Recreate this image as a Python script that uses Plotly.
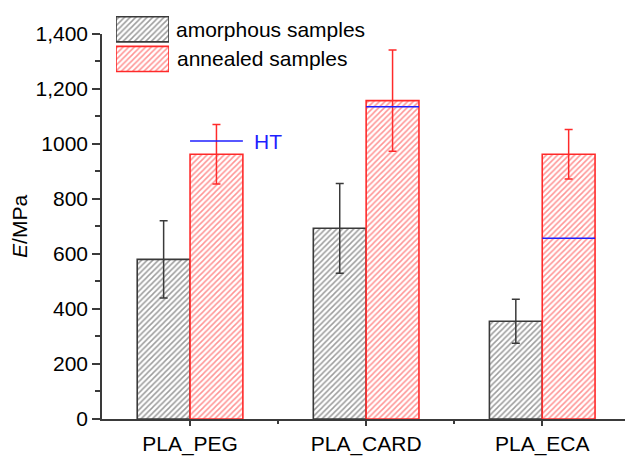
import plotly.graph_objects as go

# Young's modulus of PLA blends, amorphous vs annealed
categories = ["PLA_PEG", "PLA_CARD", "PLA_ECA"]
amorphous = [580, 693, 355]
amorphous_err = [140, 163, 80]
annealed = [962, 1157, 962]
annealed_err = [108, 184, 90]
ht_values = [1010, 1135, 657]  # heat-treated reference levels

y_tickvals = [0, 200, 400, 600, 800, 1000, 1200, 1400]
y_ticktext = ["0", "200", "400", "600", "800", "1000", "1,200", "1,400"]

series_names = ["amorphous samples", "annealed samples"]

FONT = "Liberation Sans, Arial, Helvetica, sans-serif"
FS = 21
DARK = "#3a3a3a"
RED = "#ff2a2a"
BLUE = "#1f1fff"
BAR_W = 0.3


def hatch(color):
    return dict(shape="/", fgcolor=color, bgcolor="white", size=4, solidity=0.38)


x_idx = list(range(len(categories)))

fig = go.Figure()

fig.add_trace(go.Bar(
    x=x_idx, y=amorphous, name=series_names[0], width=BAR_W, offset=-BAR_W,
    marker=dict(color="white", line=dict(color=DARK, width=1.6), pattern=hatch(DARK)),
    error_y=dict(type="data", array=amorphous_err, color=DARK, thickness=1.5, width=4),
    showlegend=False,
))
fig.add_trace(go.Bar(
    x=x_idx, y=annealed, name=series_names[1], width=BAR_W, offset=0,
    marker=dict(color="white", line=dict(color=RED, width=1.6), pattern=hatch(RED)),
    error_y=dict(type="data", array=annealed_err, color=RED, thickness=1.5, width=4),
    showlegend=False,
))

# HT level across each annealed bar
ht_x, ht_y = [], []
for i, v in zip(x_idx, ht_values):
    ht_x += [i, i + BAR_W, None]
    ht_y += [v, v, None]
fig.add_trace(go.Scatter(x=ht_x, y=ht_y, mode="lines",
                         line=dict(color=BLUE, width=1.5), showlegend=False,
                         hoverinfo="skip"))

# Legend swatches as hatched horizontal bars in a small inset axis
fig.add_trace(go.Bar(
    y=[1], x=[1], orientation="h", width=0.85, xaxis="x2", yaxis="y2",
    marker=dict(color="white", line=dict(color=DARK, width=1.6), pattern=hatch(DARK)),
    showlegend=False, hoverinfo="skip",
))
fig.add_trace(go.Bar(
    y=[0], x=[1], orientation="h", width=0.85, xaxis="x2", yaxis="y2",
    marker=dict(color="white", line=dict(color=RED, width=1.6), pattern=hatch(RED)),
    showlegend=False, hoverinfo="skip",
))

W, H = 625, 456
ML, MR, MT, MB = 102, 0, 10, 34
ph = H - MT - MB
pw = W - ML - MR


def py(pix):
    return (H - MB - pix) / ph


def px(pix):
    return (pix - ML) / pw


annotations = [
    dict(x=px(174), y=1, xref="paper", yref="y2", text=series_names[0], showarrow=False,
         xanchor="left", yanchor="middle", font=dict(family=FONT, size=FS, color="black")),
    dict(x=px(175), y=0, xref="paper", yref="y2", text=series_names[1], showarrow=False,
         xanchor="left", yanchor="middle", font=dict(family=FONT, size=FS, color="black")),
    dict(x=0 + BAR_W + 0.05, y=ht_values[0], xref="x", yref="y", text="HT", showarrow=False,
         xanchor="left", yanchor="middle", font=dict(family=FONT, size=FS, color=BLUE)),
]

fig.update_layout(
    width=W, height=H,
    margin=dict(l=ML, r=MR, t=MT, b=MB),
    paper_bgcolor="white", plot_bgcolor="white",
    barmode="overlay",
    font=dict(family=FONT, size=FS, color="black"),
    xaxis=dict(
        range=[-0.5, 2.47], domain=[0, 1],
        tickmode="array", tickvals=x_idx, ticktext=categories,
        ticks="outside", ticklen=5, tickwidth=1.5, tickcolor=DARK,
        showline=True, linecolor=DARK, linewidth=1.5, showgrid=False, zeroline=False,
        minor=dict(tickvals=[0.5, 1.5], ticks="outside", ticklen=3, tickwidth=1.5,
                   tickcolor=DARK, showgrid=False),
        tickfont=dict(family=FONT, size=FS, color="black"),
    ),
    yaxis=dict(
        range=[0, 1400], domain=[0, py(32)],
        tickmode="array", tickvals=y_tickvals, ticktext=y_ticktext,
        ticks="outside", ticklen=8, tickwidth=1.5, tickcolor=DARK,
        showline=True, linecolor=DARK, linewidth=1.5, showgrid=False, zeroline=False,
        minor=dict(tick0=0, dtick=100, ticks="outside", ticklen=5, tickwidth=1.5,
                   tickcolor=DARK, showgrid=False),
        tickfont=dict(family=FONT, size=FS, color="black"),
        title=dict(text="<i>E</i>/MPa", font=dict(family=FONT, size=FS, color="black"),
                   standoff=2),
    ),
    xaxis2=dict(domain=[px(116), px(169)], range=[0, 1], visible=False,
                anchor="y2", fixedrange=True),
    yaxis2=dict(domain=[py(72.5), py(12.5)], range=[-0.5, 1.5], visible=False,
                anchor="x2", fixedrange=True),
    annotations=annotations,
    showlegend=False,
)

fig.write_html("out.html")
